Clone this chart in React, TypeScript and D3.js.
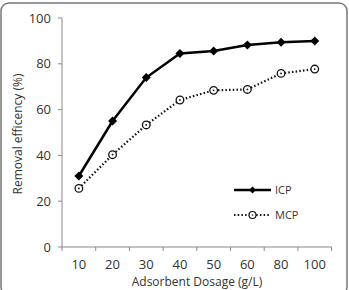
import React from "react";
import * as d3 from "d3";

const categories = ["10", "20", "30", "40", "50", "60", "80", "100"];
const icpValues = [31, 55, 74, 84.5, 85.6, 88.2, 89.4, 90];
const mcpValues = [25.6, 40.3, 53.3, 64.2, 68.4, 68.8, 75.8, 77.7];
const yTicks = [0, 20, 40, 60, 80, 100];

const W = 349;
const H = 290;
const left = 62;
const right = 331.6;
const top = 18;
const bottom = 247;

export default function App() {
  const x = d3.scaleBand<string>().domain(categories).range([left, right]);
  const y = d3.scaleLinear().domain([0, 100]).range([bottom, top]);
  const cx = (c: string) => (x(c) as number) + x.bandwidth() / 2;
  const line = d3
    .line<number>()
    .x((_, i) => cx(categories[i]))
    .y((d) => y(d));
  const font = "'Open Sans', sans-serif";
  const txt = "#333";
  const axisC = "#8a8a8a";
  const diamond = d3.symbol().type(d3.symbolDiamond2).size(52)();
  const legX1 = 234;
  const legX2 = 271;
  const legY1 = 190;
  const legY2 = 215;

  return (
    <svg width={W} height={H} style={{ position: "absolute", left: 0, top: 0 }}>
      <rect x={1} y={3} width={346} height={292} rx={8} fill="white" stroke="#777" strokeWidth={1.5} />
      {/* y axis */}
      <line x1={left} x2={left} y1={top} y2={bottom} stroke={axisC} strokeWidth={1} />
      {yTicks.map((t) => (
        <g key={t}>
          <line x1={left - 4} x2={left} y1={y(t)} y2={y(t)} stroke={axisC} />
          <text x={51} y={y(t)} dy="0.35em" textAnchor="end" fontFamily={font} fontSize={13} fill={txt}>
            {t}
          </text>
        </g>
      ))}
      {/* x axis */}
      <line x1={left} x2={right} y1={bottom} y2={bottom} stroke={axisC} />
      {[...categories.map((c) => x(c) as number), right].map((p, i) => (
        <line key={i} x1={p} x2={p} y1={bottom} y2={bottom + 4} stroke={axisC} />
      ))}
      {categories.map((c) => (
        <text key={c} x={cx(c)} y={268.5} textAnchor="middle" fontFamily={font} fontSize={13} fill={txt}>
          {c}
        </text>
      ))}
      <text x={197} y={286} textAnchor="middle" fontFamily={font} fontSize={12} fill={txt}>
        Adsorbent Dosage (g/L)
      </text>
      <text
        transform={`translate(22,134) rotate(-90)`}
        textAnchor="middle"
        fontFamily={font}
        fontSize={12}
        fill={txt}
      >
        Removal efficency (%)
      </text>
      {/* MCP */}
      <path d={line(mcpValues) || ""} fill="none" stroke="#111" strokeWidth={2.2} strokeDasharray="1.5 2.2" />
      {mcpValues.map((v, i) => (
        <g key={i} transform={`translate(${cx(categories[i])},${y(v)})`}>
          <circle r={3.8} fill="white" stroke="#111" strokeWidth={1.3} />
          <circle r={0.9} fill="#111" />
        </g>
      ))}
      {/* ICP */}
      <path d={line(icpValues) || ""} fill="none" stroke="#000" strokeWidth={2.5} />
      {icpValues.map((v, i) => (
        <path key={i} d={diamond || ""} transform={`translate(${cx(categories[i])},${y(v)})`} fill="#000" />
      ))}
      {/* legend */}
      <line x1={legX1} x2={legX2} y1={legY1} y2={legY1} stroke="#000" strokeWidth={2.5} />
      <path d={d3.symbol().type(d3.symbolDiamond2).size(30)() || ""} transform={`translate(${(legX1 + legX2) / 2},${legY1})`} fill="#000" />
      <text x={275} y={legY1} dy="0.35em" fontFamily={font} fontSize={11} fill={txt}>
        ICP
      </text>
      <line x1={legX1} x2={legX2} y1={legY2} y2={legY2} stroke="#111" strokeWidth={2} strokeDasharray="1.5 2.2" />
      <g transform={`translate(${(legX1 + legX2) / 2},${legY2})`}>
        <circle r={3.5} fill="white" stroke="#111" strokeWidth={1.2} />
        <circle r={0.8} fill="#111" />
      </g>
      <text x={275} y={legY2} dy="0.35em" fontFamily={font} fontSize={11} fill={txt}>
        MCP
      </text>
    </svg>
  );
}
